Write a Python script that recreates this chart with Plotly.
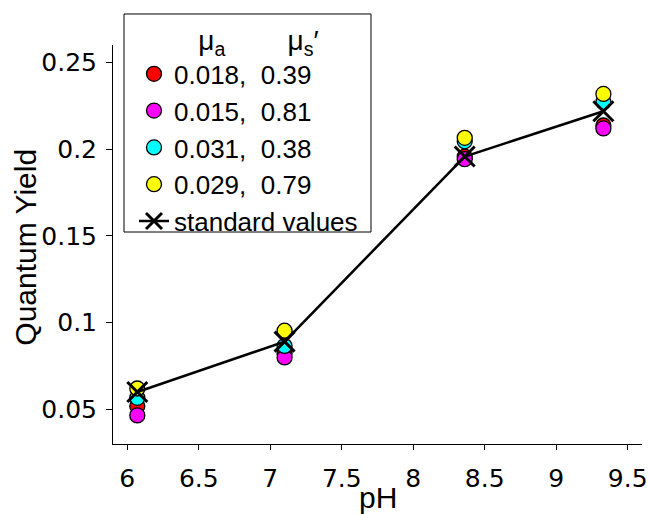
import plotly.graph_objects as go

# pH values of the four measurements
ph = [6.07, 7.10, 8.36, 9.33]

# legend labels (mu_a, mu_s') and marker colours of the phantom series
series_labels = [
    "0.018,\u00a0\u00a00.39",
    "0.015,\u00a0\u00a00.81",
    "0.031,\u00a0\u00a00.38",
    "0.029,\u00a0\u00a00.79",
]
series_colors = ["#ff0000", "#ff00ff", "#00ffff", "#ffff00"]

# quantum yield of each series
qy_red = [0.0517, 0.0820, 0.1956, 0.2136]
qy_magenta = [0.0465, 0.0799, 0.1942, 0.2119]
qy_cyan = [0.0566, 0.0865, 0.2045, 0.2272]
qy_yellow = [0.0620, 0.0953, 0.2065, 0.2318]
qy_standard = [0.0600, 0.0890, 0.1957, 0.2218]

x_ticks = [6, 6.5, 7, 7.5, 8, 8.5, 9, 9.5]
x_ticktext = ["6", "6.5", "7", "7.5", "8", "8.5", "9", "9.5"]
y_ticks = [0.05, 0.1, 0.15, 0.2, 0.25]
y_ticktext = ["0.05", "0.1", "0.15", "0.2", "0.25"]

fig = go.Figure()

for label, color, vals in zip(series_labels, series_colors,
                              [qy_red, qy_magenta, qy_cyan, qy_yellow]):
    fig.add_trace(go.Scatter(
        x=ph, y=vals, mode="markers", name=label,
        marker=dict(symbol="circle", size=15, color=color,
                    line=dict(color="black", width=1.3)),
    ))

fig.add_trace(go.Scatter(
    x=ph, y=qy_standard, mode="lines+markers", name="standard values",
    line=dict(color="black", width=2.5),
    marker=dict(symbol="x-thin", size=20, color="black",
                line=dict(color="black", width=3)),
))

sans = "Liberation Sans, Arial, sans-serif"
tick_font = dict(family="DejaVu Sans", size=25, color="black")
title_font = dict(family=sans, size=30, color="black")

# framed white box behind the legend
fig.add_shape(
    type="rect", xref="paper", yref="paper",
    x0=0.0208, x1=0.4877, y0=0.5313, y1=1.0777,
    line=dict(color="black", width=1), fillcolor="white", layer="above",
)

# axis titles
fig.add_annotation(
    text="pH", xref="paper", yref="paper", x=0.5, y=-0.135,
    xanchor="center", yanchor="middle", showarrow=False, font=title_font,
)
fig.add_annotation(
    text="Quantum Yield", xref="paper", yref="paper", x=-0.1645, y=0.4945,
    xanchor="center", yanchor="middle", textangle=-90, showarrow=False, font=title_font,
)

fig.update_layout(
    width=649, height=514,
    margin=dict(l=113, r=7, t=45, b=70),
    paper_bgcolor="white", plot_bgcolor="white",
    showlegend=True,
    legend=dict(
        x=0.0397, y=1.0777, xanchor="left", yanchor="top",
        bgcolor="rgba(0,0,0,0)", borderwidth=0,
        font=dict(family=sans, size=26, color="black"),
        title=dict(
            text="\u00a0" * 8 + "\u03bc<sub>a</sub>" + "\u00a0" * 8 + "\u03bc<sub>s</sub>\u2032",
            font=dict(family=sans, size=28, color="black"),
        ),
        tracegroupgap=0,
    ),
    xaxis=dict(
        range=[5.9, 9.6], tickvals=x_ticks, ticktext=x_ticktext, automargin=False,
        showgrid=False, zeroline=False, showline=True, linecolor="black", linewidth=1,
        ticks="outside", ticklen=5, tickcolor="black", tickwidth=1,
        tickfont=tick_font, ticklabelstandoff=7,
    ),
    yaxis=dict(
        range=[0.03, 0.26], tickvals=y_ticks, ticktext=y_ticktext, automargin=False,
        showgrid=False, zeroline=False, showline=True, linecolor="black", linewidth=1,
        ticks="outside", ticklen=6, tickcolor="black", tickwidth=1,
        tickfont=tick_font, ticklabelstandoff=4,
    ),
)

fig.write_html("out.html")
